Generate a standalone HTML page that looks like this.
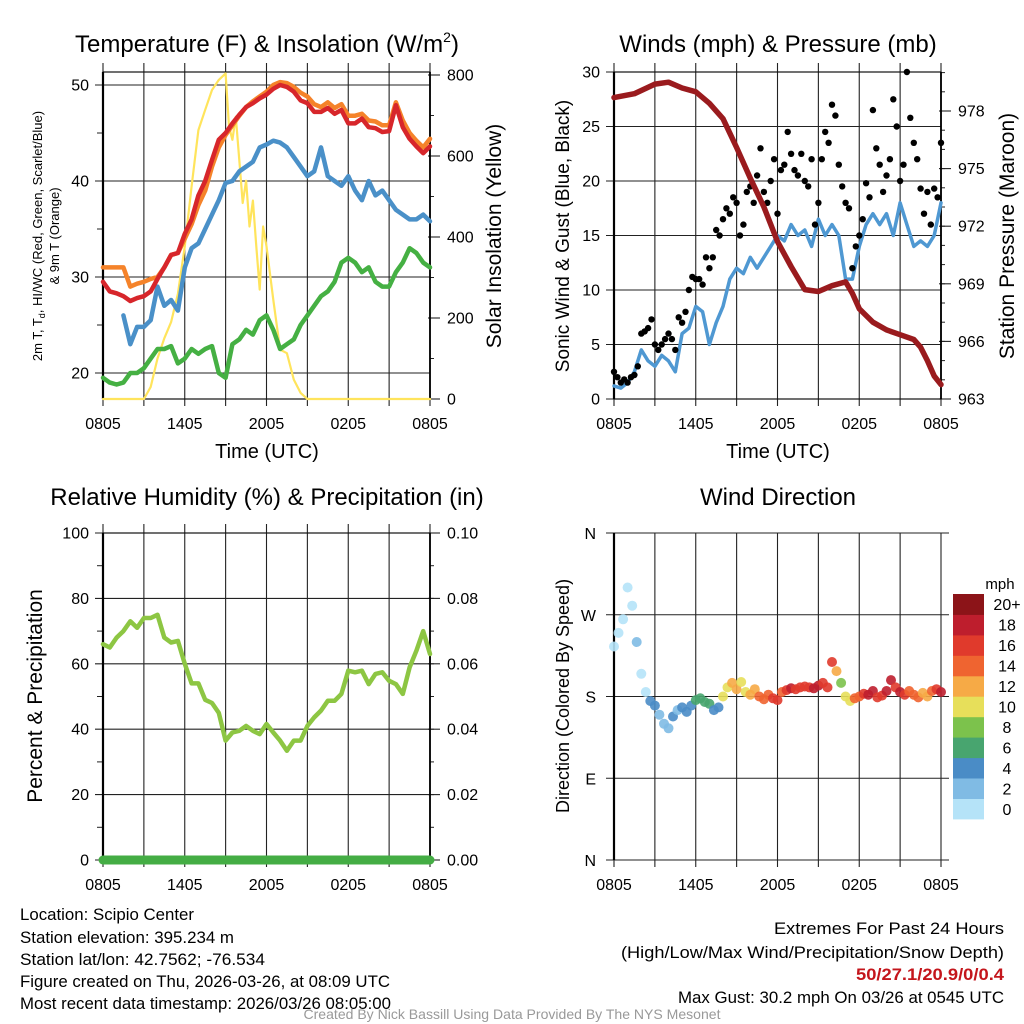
<!DOCTYPE html>
<html><head><meta charset="utf-8"><style>
html,body{margin:0;padding:0;background:#fff;}
svg{display:block;font-family:"Liberation Sans",Arial,sans-serif;}
</style></head><body>
<svg id="chart" width="1024" height="1024" viewBox="0 0 1024 1024" xmlns="http://www.w3.org/2000/svg">
<rect width="1024" height="1024" fill="#fff"/>
<g id="layer"></g>
<text x="267" y="52" font-size="24" text-anchor="middle">Temperature (F) &amp; Insolation (W/m<tspan font-size="14" dy="-10">2</tspan><tspan dy="10">)</tspan></text>
<text x="778" y="52" font-size="24" text-anchor="middle">Winds (mph) &amp; Pressure (mb)</text>
<text x="267" y="505" font-size="24" text-anchor="middle">Relative Humidity (%) &amp; Precipitation (in)</text>
<text x="778" y="505" font-size="24" text-anchor="middle">Wind Direction</text>
<text x="267" y="458" font-size="20" text-anchor="middle">Time (UTC)</text>
<text x="778" y="458" font-size="20" text-anchor="middle">Time (UTC)</text>
<text transform="translate(42,236) rotate(-90)" font-size="13" text-anchor="middle">2m T, T<tspan font-size="9" dy="3">d</tspan><tspan dy="-3">, HI/WC (Red, Green, Scarlet/Blue)</tspan></text>
<text transform="translate(59,236) rotate(-90)" font-size="13" text-anchor="middle">&amp; 9m T (Orange)</text>
<text transform="translate(501,236) rotate(-90)" font-size="21" text-anchor="middle">Solar Insolation (Yellow)</text>
<text transform="translate(569,236) rotate(-90)" font-size="19" text-anchor="middle">Sonic Wind &amp; Gust (Blue, Black)</text>
<text transform="translate(1014,236) rotate(-90)" font-size="21" text-anchor="middle">Station Pressure (Maroon)</text>
<text transform="translate(42,696) rotate(-90)" font-size="21" text-anchor="middle">Percent &amp; Precipitation</text>
<text transform="translate(569,696) rotate(-90)" font-size="18" text-anchor="middle">Direction (Colored By Speed)</text>
<text x="1000" y="589" font-size="15" text-anchor="middle">mph</text>
<g font-size="16.5">
<text x="20" y="920" textLength="174" lengthAdjust="spacingAndGlyphs">Location: Scipio Center</text>
<text x="20" y="943" textLength="214" lengthAdjust="spacingAndGlyphs">Station elevation: 395.234 m</text>
<text x="20" y="965" textLength="245" lengthAdjust="spacingAndGlyphs">Station lat/lon: 42.7562; -76.534</text>
<text x="20" y="987" textLength="370" lengthAdjust="spacingAndGlyphs">Figure created on Thu, 2026-03-26, at 08:09 UTC</text>
<text x="20" y="1009" textLength="371" lengthAdjust="spacingAndGlyphs">Most recent data timestamp: 2026/03/26 08:05:00</text>
</g>
<g font-size="16.5" text-anchor="end">
<text x="1004" y="934" textLength="230" lengthAdjust="spacingAndGlyphs">Extremes For Past 24 Hours</text>
<text x="1004" y="958" textLength="383" lengthAdjust="spacingAndGlyphs">(High/Low/Max Wind/Precipitation/Snow Depth)</text>
<text x="1004" y="980" fill="#c4161c" font-weight="bold" textLength="148" lengthAdjust="spacingAndGlyphs">50/27.1/20.9/0/0.4</text>
<text x="1004" y="1003" textLength="326" lengthAdjust="spacingAndGlyphs">Max Gust: 30.2 mph On 03/26 at 0545 UTC</text>
</g>
<text x="512" y="1019" font-size="14" fill="#999" text-anchor="middle" textLength="417" lengthAdjust="spacingAndGlyphs">Created By Nick Bassill Using Data Provided By The NYS Mesonet</text>
</svg>
<script>
// ---- data (hours since 0805 UTC) ----
const xTickLabels = ["0805","1405","2005","0205","0805"];
const halfHours = [0,0.5,1,1.5,2,2.5,3,3.5,4,4.5,5,5.5,6,6.5,7,7.5,8,8.5,9,9.5,10,10.5,11,11.5,12,12.5,13,13.5,14,14.5,15,15.5,16,16.5,17,17.5,18,18.5,19,19.5,20,20.5,21,21.5,22,22.5,23,23.5,24];
const tempRed = [29.5,28.5,28.3,28,27.5,27.8,28,28.5,29.8,31,32.3,32.5,34.5,36,38.5,40,42.2,44.3,45,46,46.9,47.7,48.1,48.6,49,49.6,50,49.8,49.3,48.4,48.1,47.2,47.2,47.6,47,47.4,46,46,46.5,45.6,45.5,45.1,45.2,47.9,45.6,44.4,43.6,42.9,43.6];
const temp9m = [31,31,31,31,29,29.3,29.5,29.8,30,31,32.3,32.5,34,35.5,37.5,39,41.5,43.5,44.8,45.8,46.8,47.7,48.3,48.8,49.3,50,50.3,50.2,49.8,49.2,48.8,48,47.7,48.2,47.6,48,46.8,46.8,47,46.3,46.2,45.8,45.8,48.2,46.3,45,44.2,43.5,44.4];
const windChill = [null,null,null,26,23,24.8,24.8,25.5,29,27,27.6,26.5,31,33,33.5,35,36.5,38,39.8,40,41,41.5,42,43.5,43.8,44.2,44,43.5,42.5,41.5,40.5,41,43.5,40.5,40,39.5,40.5,39,38,40,38.5,39,38,37,36.5,36,36,36.5,35.8];
const dewpoint = [19.5,19,18.8,19,20,20,20.5,21.5,22.5,22.5,22.8,21,21.5,22.5,22,22.5,22.8,20,19.5,23,23.5,24.5,24,25.5,26,24.5,22.5,23,23.5,25,26,27,28,28.5,29.5,31.5,32,31.5,30.5,31,29.5,29,29,30.5,31.5,33,32.5,31.5,31];
const solarHours = [0,3,3.5,4,4.5,5,5.5,6,6.5,7,7.5,8,8.5,9,9.25,9.5,9.75,10,10.25,10.5,10.75,11,11.25,11.5,11.75,12,12.5,13,13.5,14,14.5,15,24];
const solarValues = [0,0,30,100,150,190,260,377,525,664,714,763,788,804,673,640,697,590,484,539,426,490,377,270,426,377,245,122,113,48,15,0,0];
const windSpeed = [1.2,1,1.5,2.5,4.5,3.5,3,4,3.5,2.5,6,6.5,8.5,8,5,7,8.5,11,12,11.5,13,12,13,14,15,14.5,16,15,15.5,14,16.5,15,16,15,11,11,14,16,17,16,17,15,18,16,14,14.5,14,15,18];
const gustValues = [2.5,2,1.5,1.8, 1.5,2,2.2,3, 6,6.2,6.5,7.3, 5,4.5,5,5.5, 6,5.5,4.5,7.5, 7,8,10,11.2, 11,11,10.5,13, 12,13,15.5,15, 16.5,17.5,17,18.5, 18,15,16,19, 19.5,18,20.5,23, 19,18,20,22, 17,21,21.5,24.5, 22.5,21,20.5,22.5, 20,19.5,22,16, 18,22,24.5,23.5, 27,26,21.5,19.5, 18,17.5,12,14, 15,16.5,19.8,18.5, 26.5,23,21.5,19, 20.5,22,27.5,25, 20,21.5,30,25.8, 23.5,22,19.3,17, 19,16,19.3,18.5, 23.5];
const pressHours = [0,1.5,3,4,5,6,7,8,9,10,11,12,13,14,15,16,17,17.5,18,19,20,21,22,22.5,23,23.5,24];
const pressValues = [978.7,978.9,979.4,979.5,979.2,979.0,978.4,977.6,976.1,974.5,973.0,971.2,969.9,968.7,968.6,968.9,969.1,968.5,967.7,967.0,966.6,966.35,966.1,965.7,965.0,964.2,963.75];
const rhValues = [66,65,68,70,73,71,74,74,75,68,66.5,67,60,54,54,49,48,45,36.5,39,39.5,41,39.5,38.5,41.6,39,36.5,33.4,36.5,36.5,41,43.6,45.7,48.7,48.7,50.8,57.9,57.4,57.9,53.8,56.9,57.4,54.8,53.8,50.8,58.9,64,70,63];
const precipValues = [0,0];
const dirDegrees = [235,250,265, 300,280,240, 205,185,175, 170,160,150, 145,158,165, 168,163,170, 176,178,174, 172,165,168, 180,190,195, 188,196,185, 182,188,180, 177,182,178, 176,185,187, 189,188,190, 191,190,189, 192,195,190, 218,208,195, 180,175,178, 180,183,182, 186,179,181, 186,198,190, 185,182,186, 182,179,184, 180,186,188, 185];
const dirSpeeds = [1,1,1, 1,1,2, 1,1,4, 4,3,2, 2,4,3, 4,4,5, 6,7,7, 7,5,4, 10,11,12, 12,11,10, 13,12,14, 14,15,16, 16,15,17, 18,16,17, 17,16,18, 18,17,16, 17,12,9, 10,10,14, 15,17,18, 18,16,17, 19,18,17, 18,16,15, 14,14,13, 13,14,16, 18];
const speedBinLabels = ["0","2","4","6","8","10","12","14","16","18","20+"];
const speedBinColors = ["#b5e3f8","#80bbe4","#4a8cc6","#48a56f","#7cc24c","#e7df5a","#f6aa46","#ef6430","#e03a2c","#be1e2d","#8c1418"];

// ---- helpers ----
const NS = "http://www.w3.org/2000/svg";
const layer = document.getElementById("layer");
function mk(tag, parent){ const e=document.createElementNS(NS,tag); (parent||layer).appendChild(e); return e; }
function lineEl(x1,y1,x2,y2,stroke,sw,parent){ const l=mk("line",parent); l.setAttribute("x1",x1);l.setAttribute("y1",y1);l.setAttribute("x2",x2);l.setAttribute("y2",y2);l.setAttribute("stroke",stroke);l.setAttribute("stroke-width",sw); return l; }
function textEl(x,y,s,anchor,size,parent){ const t=mk("text",parent); t.setAttribute("x",x);t.setAttribute("y",y);t.setAttribute("text-anchor",anchor);t.setAttribute("font-size",size);t.textContent=s; return t; }

const PW=327, PH=327;
function makeX(x0){ return h => x0 + h*PW/24; }

function frame(x0,y0,name,leftTicks,leftMinor,leftY,leftFmt,rightTicks,rightMinor,rightY,rightFmt,xs){
  const g=mk("g");
  
  
  for(let h=0;h<=24;h+=3){
    const l=lineEl(xs(h),y0-9,xs(h),y0+PH+7,"#222",1.1,g);
    
    
  }
  leftTicks.forEach(v=>{
    const y=leftY(v);
    const l=lineEl(x0-8,y,x0+PW+(rightTicks?0:8),y,"#222",1.1,g);
    
    
    const t=textEl(x0-14,y+5.5,leftFmt(v),"end",16,g);
    
    
  });
  leftMinor.forEach(v=>{ const y=leftY(v); const l=lineEl(x0-6,y,x0,y,"#222",1,g);
    
     });
  if(rightTicks){
    rightTicks.forEach(v=>{ const y=rightY(v); const l=lineEl(x0+PW-2,y,x0+PW+10,y,"#222",1.1,g);
      
      
      const t=textEl(x0+PW+17,y+5.5,rightFmt(v),"start",16,g);
      
       });
    rightMinor.forEach(v=>{ const y=rightY(v); const l=lineEl(x0+PW,y,x0+PW+4,y,"#222",1,g);
      
       });
  }
  const r=mk("rect",g); r.setAttribute("x",x0);r.setAttribute("y",y0);r.setAttribute("width",PW);r.setAttribute("height",PH);r.setAttribute("fill","none");r.setAttribute("stroke","#111");r.setAttribute("stroke-width",1.2);
  
  
  const lft=lineEl(x0,y0,x0,y0+PH,"#000",2.2,g);
  
  
  if(rightTicks){ const rl=lineEl(x0+PW,y0,x0+PW,y0+PH,"#000",1.8,g);
    
     }
  xTickLabels.forEach((s,i)=>{ const t=textEl(xs(i*6),y0+PH+30,s,"middle",16,g);
    
     });
}
function poly(xs,ys,hours,vals,color,w,name){
  let d="", pen=false;
  hours.forEach((h,i)=>{ const v=vals[i]; if(v===null||v===undefined){pen=false;return;}
    d+=(pen?"L":"M")+xs(h).toFixed(1)+","+ys(v).toFixed(1); pen=true; });
  const p=mk("path"); p.setAttribute("d",d); p.setAttribute("fill","none"); p.setAttribute("stroke",color); p.setAttribute("stroke-width",w); p.setAttribute("stroke-linejoin","round"); p.setAttribute("stroke-linecap","round");
  
  
  return p;
}
function range(a,b,s){ const r=[]; for(let v=a; v<=b+1e-9; v+=s) r.push(+v.toFixed(4)); return r; }

// ---- panel 1: temperature ----
const x1=makeX(103), yT=v=>373-(v-20)*9.6, yS=v=>399-v*324/800;
frame(103,72,"temp",[20,30,40,50],[25,35,45],yT,v=>String(v),range(0,800,200),range(100,700,200),yS,v=>String(v),x1);
poly(x1,yS,solarHours,solarValues,"#ffe45c",2.2,"solar-insolation-line");
poly(x1,yT,halfHours,dewpoint,"#45b043",4.5,"dewpoint-line");
poly(x1,yT,halfHours,windChill,"#4a90c8",4.5,"windchill-line");
poly(x1,yT,halfHours,temp9m,"#f5832a",4.5,"temp-9m-line");
poly(x1,yT,halfHours,tempRed,"#d7262b",4.5,"temp-2m-line");

// ---- panel 2: winds ----
const x2=makeX(614), yW=v=>399-v*10.9, yP=v=>399-(v-963)*19.2;
frame(614,72,"wind",range(0,30,5),[],yW,v=>String(v),range(963,978,3),range(963,980,1),yP,v=>String(v),x2);
poly(x2,yW,halfHours,windSpeed,"#4f98d2",3.5,"wind-speed-line");
gustValues.forEach((v,i)=>{
  const c=mk("circle"); c.setAttribute("cx",x2(i*0.25).toFixed(1)); c.setAttribute("cy",yW(v).toFixed(1)); c.setAttribute("r",3.2); c.setAttribute("fill","#000");
  
  
});
poly(x2,yP,pressHours,pressValues,"#9a1b1e",5.5,"pressure-line");

// ---- panel 3: RH ----
const x3=makeX(103), yR=v=>860-v*3.27, yPr=v=>860-v*3270;
frame(103,533,"rh",range(0,100,20),range(10,90,20),yR,v=>String(v),range(0,0.1,0.02),range(0.01,0.09,0.01),yPr,v=>v.toFixed(2),x3);
poly(x3,yR,halfHours,rhValues,"#8dc643",4.5,"rh-line");
poly(x3,yPr,[0,24],precipValues,"#44ad44",9,"precip-line");

// ---- panel 4: wind direction ----
const x4=makeX(614), yD=v=>860-v*PH/360;
const dirTicks=[0,90,180,270,360], dirLabels=["N","E","S","W","N"];
(function(){
  const g=mk("g");
  
  
  for(let h=0;h<=24;h+=3){ const l=lineEl(x4(h),533,x4(h),867,"#222",1.1,g);
    
     }
  dirTicks.forEach((d,i)=>{ const y=yD(d); const l=lineEl(606,y,949,y,"#222",1.1,g);
    
    
    const t=textEl(596,y+6,dirLabels[i],"end",16,g);
    
     });
  const lft=lineEl(614,533,614,860,"#000",2.2,g);
  
  
  xTickLabels.forEach((s,i)=>{ const t=textEl(x4(i*6),890,s,"middle",16,g);
    
     });
})();
dirDegrees.forEach((d,i)=>{
  const bin=Math.min(10,Math.floor(dirSpeeds[i]/2));
  const c=mk("circle"); c.setAttribute("cx",x4(i/3).toFixed(1)); c.setAttribute("cy",yD(d).toFixed(1)); c.setAttribute("r",5); c.setAttribute("fill",speedBinColors[bin]); c.setAttribute("fill-opacity",0.9);
  
  
});
// colorbar
speedBinColors.forEach((col,i)=>{
  const bh=225/11, y=819-(i+1)*bh;
  const r=mk("rect"); r.setAttribute("x",953); r.setAttribute("y",y.toFixed(1)); r.setAttribute("width",31); r.setAttribute("height",(bh+0.4).toFixed(1)); r.setAttribute("fill",col);
  
  
  const t=textEl(1007,y+bh/2+6,speedBinLabels[i],"middle",16);
  
  
});
</script>
</body></html>
